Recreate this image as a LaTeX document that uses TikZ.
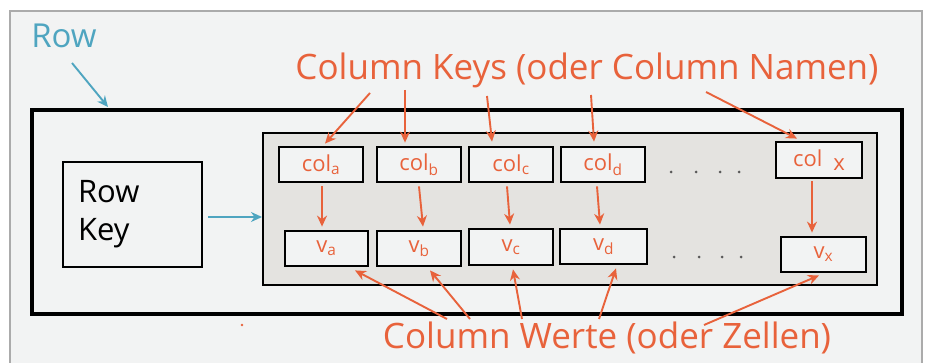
\documentclass[tikz,border=0pt]{standalone}
\usepackage{fontspec}
\setmainfont{Open Sans}
\usetikzlibrary{arrows.meta}
\definecolor{orng}{HTML}{E8623B}
\definecolor{rowblue}{HTML}{4FA5C0}
\definecolor{pagebg}{HTML}{F2F3F3}
\definecolor{innerbg}{HTML}{E4E3E0}
\definecolor{framegray}{HTML}{ABABAB}
\tikzset{
  cbox/.style={draw=black, line width=2.8pt, fill=pagebg, minimum height=35pt, inner sep=0pt,
    text=orng, font=\fontsize{22}{22}\selectfont},
  oarr/.style={draw=orng, line width=1.9pt, -{Stealth[length=11pt,width=10pt]}},
  barr/.style={draw=rowblue, line width=1.9pt, -{Stealth[length=11pt,width=10pt]}},
  otext/.style={text=orng, inner sep=0pt},
  dotmark/.style={fill=black!65, circle, inner sep=0pt, minimum size=3pt},
}
\begin{document}
\begin{tikzpicture}[x=1pt,y=-1pt]
\useasboundingbox (0,0) rectangle (928,363);
\fill[white] (0,0) rectangle (928,363);
\draw[framegray, line width=1.5pt, fill=pagebg] (10,11) -- (922,11) -- (922,375) -- (10,375) -- cycle;

% outer row box
\draw[black, line width=3.4pt] (32,110) rectangle (902,314);
% inner gray box
\draw[black, line width=2.8pt, fill=innerbg] (263,133) rectangle (877,285);
% row key box
\node[draw=black, line width=2.8pt, fill=pagebg, minimum width=139pt, minimum height=105pt,
  inner xsep=15pt, inner ysep=0pt, text width=109pt,
  align=left, font=\fontsize{31}{38}\selectfont] (rk) at (132.5,214.5) {Row\\Key};

% column key boxes
\node[cbox, minimum width=84pt] (ca) at (321,164.5) {col\textsubscript{a}};
\node[cbox, minimum width=84pt] (cb) at (419,164.5) {col\textsubscript{b}};
\node[cbox, minimum width=84pt] (cc) at (511,164.5) {col\textsubscript{c}};
\node[cbox, minimum width=84pt] (cd) at (603,164.5) {col\textsubscript{d}};
\node[cbox, minimum width=86pt, minimum height=36pt] (cx) at (819,160) {col\enspace\raisebox{-4pt}{x}};

% value boxes
\node[cbox, minimum width=83pt] (va) at (326.5,248.5) {v\textsubscript{a}};
\node[cbox, minimum width=84pt] (vb) at (419,248.5) {v\textsubscript{b}};
\node[cbox, minimum width=84pt, minimum height=36pt] (vc) at (511,247) {v\textsubscript{c}};
\node[cbox, minimum width=87pt] (vd) at (603.5,246.5) {v\textsubscript{d}};
\node[cbox, minimum width=85pt] (vx) at (823.5,254.5) {v\textsubscript{x}};

% ellipsis dots
\foreach \x in {671,696,720,739} \node[dotmark] at (\x,172) {};
\foreach \x in {674,699,722,741} \node[dotmark] at (\x,257) {};
\fill[orng] (242,325) circle (1.3pt);

% labels
\node[text=rowblue, inner sep=0pt, font=\fontsize{33}{33}\selectfont] (row) at (64,36) {Row};
\node[otext, font=\fontsize{35}{35}\selectfont] (ck) at (587,70) {Column Keys (oder Column Namen)};
\node[otext, font=\fontsize{35}{35}\selectfont] (cw) at (607,338) {Column Werte (oder Zellen)};

% arrow start points
\coordinate (rs) at (72,63);
\coordinate (k1) at (370,93);
\coordinate (k2) at (405,90);
\coordinate (k3) at (487,96);
\coordinate (k4) at (591,95);
\coordinate (k5) at (706,92);
\coordinate (w1) at (447,319);
\coordinate (w2) at (470,319);
\coordinate (w3) at (522,319);
\coordinate (w4) at (599,319);
\coordinate (w5) at (704,325);
\coordinate (rowbox) at (108,107);
\coordinate (inner) at (262,217);

% blue arrows
\draw[barr] (rs) -- (rowbox);
\draw[barr] ([xshift=5pt]rk.east |- inner) -- (inner);

% key arrows
\draw[oarr] (k1) -- ([xshift=4pt,yshift=2pt]ca.north);
\draw[oarr] (k2) -- ([xshift=-14pt,yshift=3pt]cb.north);
\draw[oarr] (k3) -- ([xshift=-19pt,yshift=4pt]cc.north);
\draw[oarr] (k4) -- ([xshift=-9pt,yshift=4pt]cd.north);
\draw[oarr] (k5) -- ([xshift=-22pt,yshift=2pt]cx.north);

% key to value arrows
\draw[oarr] ([xshift=1pt,yshift=-3pt]ca.south) -- ([xshift=-4.5pt,yshift=3pt]va.north);
\draw[oarr] ([xshift=0pt,yshift=-3pt]cb.south) -- ([xshift=4pt,yshift=3pt]vb.north);
\draw[oarr] ([xshift=-4pt,yshift=-3pt]cc.south) -- ([xshift=-1pt,yshift=3pt]vc.north);
\draw[oarr] ([xshift=-6pt,yshift=-3pt]cd.south) -- ([xshift=-3.5pt,yshift=3pt]vd.north);
\draw[oarr] ([xshift=-7pt,yshift=-2pt]cx.south) -- ([xshift=-11.5pt,yshift=3pt]vx.north);

% value arrows
\draw[oarr] (w1) -- ([xshift=28.5pt,yshift=-3pt]va.south);
\draw[oarr] (w2) -- ([xshift=11pt,yshift=-3pt]vb.south);
\draw[oarr] (w3) -- ([xshift=2pt,yshift=-3pt]vc.south);
\draw[oarr] (w4) -- ([xshift=12.5pt,yshift=-3pt]vd.south);
\draw[oarr] (w5) -- ([xshift=-4.5pt,yshift=-2pt]vx.south);
\end{tikzpicture}
\end{document}
